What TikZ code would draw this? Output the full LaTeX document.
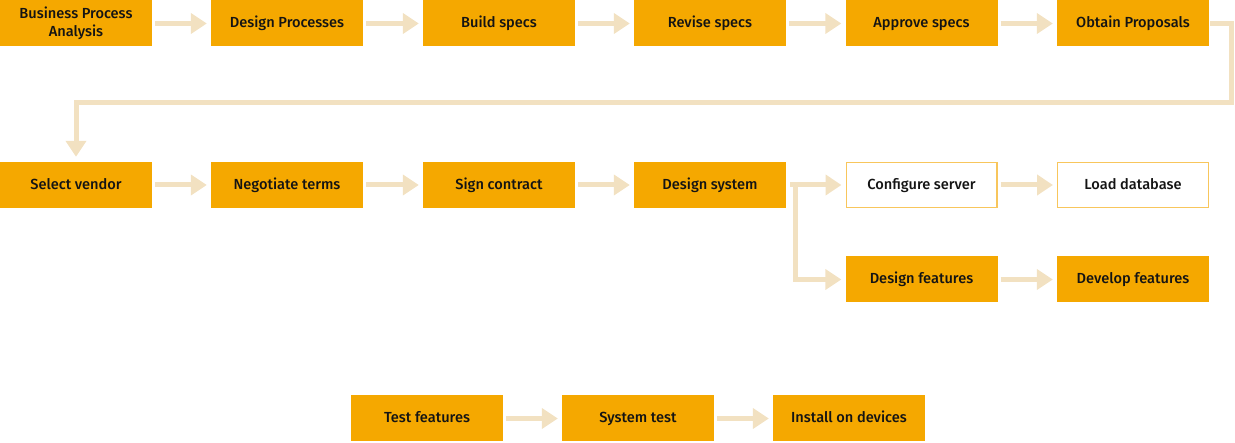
\documentclass[tikz,border=0pt]{standalone}
\usepackage{fontspec}
\setmainfont{Fira Sans Medium}
\usetikzlibrary{arrows.meta}
\definecolor{boxor}{HTML}{F5A800}
\definecolor{arr}{HTML}{F2E1C1}
\definecolor{wbord}{HTML}{F8C65C}
\definecolor{txt}{HTML}{141414}
\begin{document}
\begin{tikzpicture}[x=1pt,y=-1pt,
  box/.style={fill=boxor,minimum width=152pt,minimum height=46pt,inner sep=0pt,
    text=txt,font=\fontsize{14.6}{18.5}\selectfont,align=center},
  one/.style={text height=11pt,text depth=2.6pt},
  wbox/.style={box,fill=white,draw=wbord,line width=1.3pt,minimum width=150.7pt,minimum height=44.7pt},
  conn/.style={draw=arr,line width=5pt,-{Triangle[length=16pt,width=20pt]},shorten >=4pt,shorten <=3pt}]
\useasboundingbox (0,0) rectangle (1235,443);
% row 1
\node[box] (bpa) at (76,23.5) {Business Process\\Analysis};
\node[box,one] (dp)  at (287,23.5) {Design Processes};
\node[box,one] (bs)  at (499,23.5) {Build specs};
\node[box,one] (rs)  at (710,23.5) {Revise specs};
\node[box,one] (as)  at (921.5,23.5) {Approve specs};
\node[box,one] (op)  at (1133,23.5) {Obtain Proposals};
% row 2
\node[box,one] (sv)  at (76,185) {Select vendor};
\node[box,one] (nt)  at (287,185) {Negotiate terms};
\node[box,one] (sc)  at (499,185) {Sign contract};
\node[box,one] (ds)  at (710,185) {Design system};
\node[wbox,one] (cs) at (921.5,185) {Configure server};
\node[wbox,one] (ld) at (1133,185) {Load database};
% row 3
\node[box,one] (df)  at (921.5,279.5) {Design features};
\node[box,one] (dv)  at (1133,279.5) {Develop features};
% row 4
\node[box,one] (tf)  at (427,418.5) {Test features};
\node[box,one] (st)  at (638,418.5) {System test};
\node[box,one] (id)  at (849,418.5) {Install on devices};
% connectors
\draw[conn] (bpa) -- (dp);
\draw[conn] (dp) -- (bs);
\draw[conn] (bs) -- (rs);
\draw[conn] (rs) -- (as);
\draw[conn] (as) -- (op);
\coordinate (lr) at (1231,103);
\draw[conn,shorten >=5pt,shorten <=1pt] (op.east) -| (lr) -| (sv.north);
\draw[conn] (sv) -- (nt);
\draw[conn] (nt) -- (sc);
\draw[conn] (sc) -- (ds);
\coordinate (br) at (795,182);
\draw[conn,shorten <=4pt] (ds.east) -- (cs.west);
\draw[conn,shorten <=0pt] (br) |- (df.west);
\draw[conn] (cs) -- (ld);
\draw[conn] (df) -- (dv);
\draw[conn] (tf) -- (st);
\draw[conn] (st) -- (id);
\end{tikzpicture}
\end{document}
